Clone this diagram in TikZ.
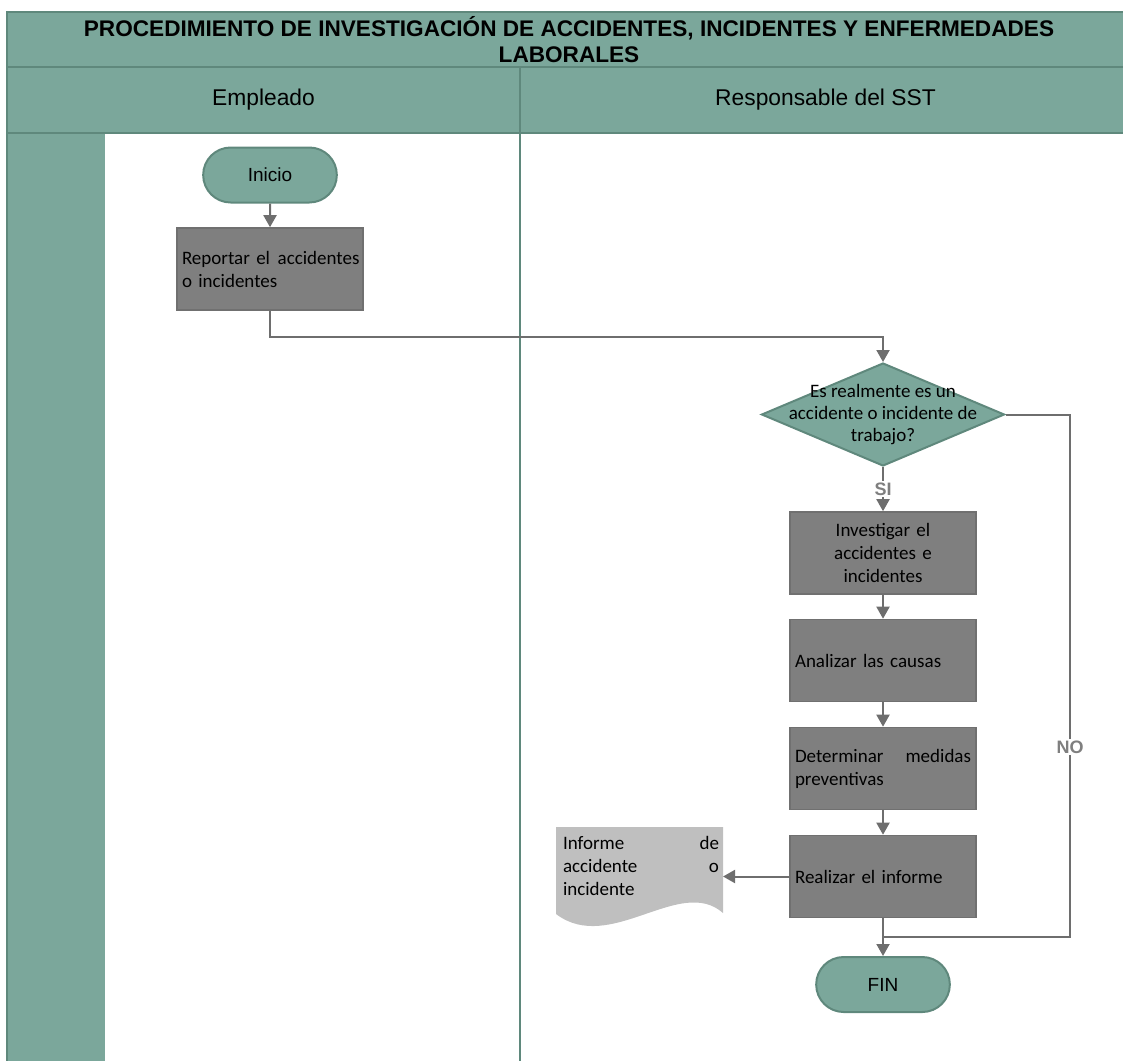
\documentclass[tikz,border=0pt]{standalone}
\usepackage{fontspec}
\setmainfont{Carlito}
\newfontfamily\arial{Liberation Sans}
\usetikzlibrary{arrows.meta, positioning, shapes.geometric, shapes.misc}

\definecolor{carril}{RGB}{123,167,155}
\definecolor{bordecarril}{RGB}{95,136,124}
\definecolor{gris}{RGB}{127,127,127}
\definecolor{bordegris}{RGB}{112,112,112}
\definecolor{grisdoc}{RGB}{191,191,191}
\definecolor{linea}{RGB}{110,110,110}

\tikzset{
  banda/.style={draw=bordecarril, fill=carril, line width=1pt, inner sep=0pt},
  terminal/.style={rounded rectangle, draw=bordecarril, fill=carril, line width=1pt,
    minimum width=73.5pt, minimum height=27.5pt,
    font=\arial\fontsize{9.5}{11.4}\selectfont},
  proceso/.style={rectangle, draw=bordegris, fill=gris, line width=0.8pt,
    minimum width=93pt, minimum height=41pt, text width=88pt, inner sep=2.5pt,
    font=\fontsize{9.5}{11.5}\selectfont},
  decision/.style={diamond, draw=bordecarril, fill=carril, line width=1pt,
    minimum width=121.5pt, minimum height=51.5pt, inner sep=0pt},
  flecha/.style={draw=linea, line width=1pt, -{Triangle[length=6pt, width=6.5pt]}},
  conector/.style={draw=linea, line width=1pt},
  etiq/.style={fill=white, text=gris, inner sep=1pt,
    font=\arial\bfseries\fontsize{9}{10}\selectfont}
}

\begin{document}
\begin{tikzpicture}[x=0.5pt, y=-0.5pt]
  \useasboundingbox (0,0) rectangle (1123,1060);
  \clip (0,0) rectangle (1123,1060);

  % carriles
  \fill[carril] (7,133) rectangle (105,1070);
  \node[banda, minimum width=562pt, minimum height=27.5pt, align=center,
        font=\arial\bfseries\fontsize{11.3}{13}\selectfont] (titulo) at (569,39.5)
    {PROCEDIMIENTO DE INVESTIGACIÓN DE ACCIDENTES, INCIDENTES Y ENFERMEDADES\\LABORALES};
  \node[banda, minimum width=256.5pt, minimum height=33pt,
        font=\arial\fontsize{11.4}{13}\selectfont] (empleado) at (263.5,100) {Empleado};
  \node[banda, minimum width=305.5pt, minimum height=33pt,
        font=\arial\fontsize{11.4}{13}\selectfont] (responsable) at (825.5,100) {Responsable del SST};
  \draw[bordecarril, line width=1pt] (7,133) -- (7,1070);
  \draw[bordecarril, line width=1.3pt] (520,133) -- (520,1070);

  % pasos
  \node[terminal] (ini) at (270,175) {Inicio};
  \node[proceso, align=left] (rep) at (270,269)
    {\mbox{Reportar el\hspace{0.4em}accidentes}\\o incidentes};
  \node[decision] (dec) at (883,414.5) {};
  \node[align=center, font=\fontsize{9.5}{11}\selectfont] (dectxt) at (dec)
    {Es realmente es un\\accidente o incidente de\\trabajo?};
  \node[proceso, align=center] (inv) at (883,553) {Investigar el\\accidentes e\\incidentes};
  \node[proceso, align=left] (ana) at (883,660.5) {Analizar las causas};
  \node[proceso, align=left] (det) at (883,768.5) {Determinar\hfill medidas\\preventivas};
  \node[proceso, align=left] (rea) at (883,876.5) {Realizar el informe};
  \node[terminal] (fin) at (883,984.5) {FIN};

  % documento
  \fill[grisdoc] (556,827) -- (723,827) -- (723,913)
    .. controls (680,875) and (610,955) .. (556,914) -- cycle;
  \node[text width=78pt, inner sep=0pt, align=left, font=\fontsize{9.5}{11.5}\selectfont]
    (doc) at (641,866) {Informe\hfill de\\accidente\hfill o\\incidente};

  \coordinate (codo) at (270,337);
  \coordinate (docder) at (723,876.5);
  \coordinate (noesq) at (1070,937);
  \coordinate (nojunta) at (883,937);

  % conectores
  \draw[flecha] (ini) -- (rep);
  \draw[flecha] (rep.south) -- (codo) -| (dec.north);
  \draw[flecha] (dec.south) -- node[etiq] {SI} (inv.north);
  \draw[flecha] (inv) -- (ana);
  \draw[flecha] (ana) -- (det);
  \draw[flecha] (det) -- (rea);
  \draw[flecha] (rea.west) -- (docder);
  \draw[flecha] (rea.south) -- (fin.north);
  \draw[conector] (dec.east) -| (noesq) -- (nojunta);
  \node[etiq] (no) at (1070,747) {NO};
\end{tikzpicture}
\end{document}
